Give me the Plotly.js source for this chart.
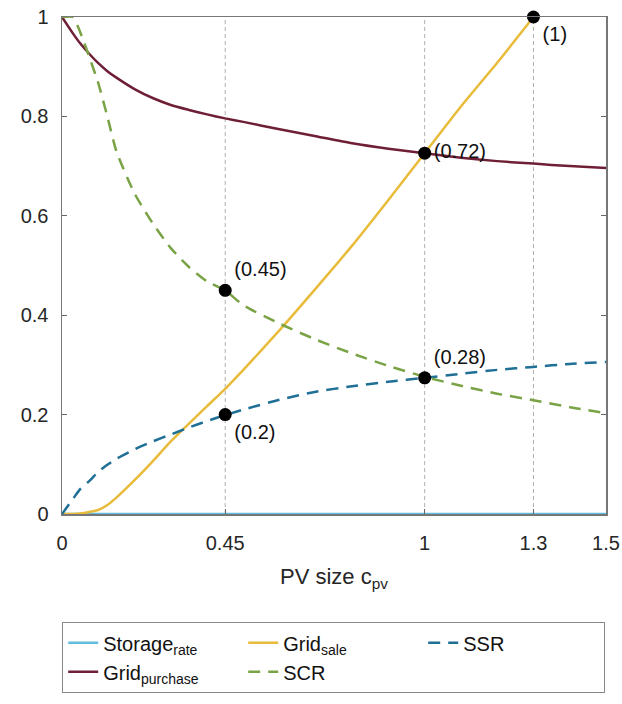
<!DOCTYPE html>
<html>
<head>
<meta charset="utf-8">
<script src="https://cdn.plot.ly/plotly-3.0.1.min.js"></script>
<style>html,body{margin:0;padding:0;background:#fff;}#chart{width:622px;height:704px;}</style>
</head>
<body>
<div id="chart"></div>
<script>
// PV size grid
const pvSize = [0, 0.03, 0.05, 0.075, 0.1, 0.125, 0.15, 0.2, 0.25, 0.3, 0.35, 0.4, 0.45, 0.5, 0.6, 0.7, 0.8, 0.9, 1.0, 1.1, 1.2, 1.3, 1.4, 1.5];
const storageRate = [0,0,0,0,0,0,0,0,0,0,0,0,0,0,0,0,0,0,0,0,0,0,0,0];
const gridPurchase = [1, 0.967, 0.947, 0.926, 0.907, 0.891, 0.878, 0.855, 0.837, 0.823, 0.813, 0.804, 0.796, 0.789, 0.774, 0.76, 0.746, 0.735, 0.726, 0.717, 0.71, 0.705, 0.7, 0.696];
const scr = [1, 1, 0.97, 0.92, 0.867, 0.8, 0.73, 0.645, 0.585, 0.535, 0.497, 0.468, 0.45, 0.42, 0.383, 0.351, 0.323, 0.298, 0.276, 0.258, 0.242, 0.229, 0.215, 0.203];
const ssr = [0, 0.03, 0.05, 0.066, 0.085, 0.099, 0.111, 0.13, 0.146, 0.16, 0.174, 0.187, 0.199, 0.21, 0.23, 0.246, 0.257, 0.266, 0.274, 0.282, 0.29, 0.296, 0.302, 0.306];
const saleSize = [0, 0.03, 0.05, 0.075, 0.1, 0.125, 0.15, 0.2, 0.25, 0.3, 0.35, 0.4, 0.45, 0.5, 0.6, 0.7, 0.8, 0.9, 1.0, 1.1, 1.2, 1.3];
const gridSale = [0, 0, 0.001, 0.004, 0.008, 0.018, 0.033, 0.068, 0.106, 0.146, 0.182, 0.217, 0.252, 0.29, 0.37, 0.454, 0.54, 0.632, 0.726, 0.82, 0.908, 1.0];

// highlighted points
const markX = [0.45, 0.45, 1, 1, 1.3];
const markY = [0.45, 0.2, 0.726, 0.274, 1];
const markLabels = ['(0.45)', '(0.2)', '(0.72)', '(0.28)', '(1)'];
const markPos = ['top right', 'bottom right', 'middle right', 'top right', 'bottom right'];

// vertical guide lines
const guideX = [0.45, 1, 1.3];

const xTicks = [0, 0.45, 1, 1.3, 1.5];
const xTickText = ['0', '0.45', '1', '1.3', '1.5'];
const yTicks = [0, 0.2, 0.4, 0.6, 0.8, 1];
const yTickText = ['0', '0.2', '0.4', '0.6', '0.8', '1'];

const FONT = 'Liberation Sans, Arial, sans-serif';

const traces = [];
guideX.forEach(g => {
  traces.push({x: [g, g], y: [0, 1], mode: 'lines', showlegend: false, hoverinfo: 'skip',
    line: {color: '#b0b0b0', width: 1, dash: '4px,3px'}});
});
traces.push({x: pvSize, y: storageRate, mode: 'lines', name: 'Storage<sub>rate</sub>',
  line: {color: '#62bde0', width: 2.5}});
traces.push({x: saleSize, y: gridSale, mode: 'lines', name: 'Grid<sub>sale</sub>',
  line: {color: '#e8bb3a', width: 2.5, shape: 'spline', smoothing: 0.6}});
traces.push({x: pvSize, y: ssr, mode: 'lines', name: 'SSR',
  line: {color: '#1f6f96', width: 2.5, dash: '12px,8px', shape: 'spline', smoothing: 0.6}});
traces.push({x: pvSize, y: gridPurchase, mode: 'lines', name: 'Grid<sub>purchase</sub>',
  line: {color: '#6e1f36', width: 2.5, shape: 'spline', smoothing: 0.6}});
traces.push({x: pvSize, y: scr, mode: 'lines', name: 'SCR',
  line: {color: '#7aa346', width: 2.5, dash: '12px,8px', shape: 'spline', smoothing: 0.6}});
traces.push({x: markX, y: markY, mode: 'markers+text', text: markLabels, textposition: markPos,
  showlegend: false, hoverinfo: 'skip', cliponaxis: false,
  marker: {color: '#000', size: 13},
  textfont: {family: FONT, size: 20, color: '#111'}});

const layout = {
  width: 622, height: 704,
  margin: {l: 62, r: 16, t: 17, b: 190, autoexpand: false},
  paper_bgcolor: '#fff', plot_bgcolor: '#fff',
  font: {family: FONT, size: 20, color: '#262626'},
  xaxis: {
    range: [0, 1.5], tickvals: xTicks, ticktext: xTickText,
    ticks: 'inside', ticklen: 5, tickcolor: '#666', ticklabelstandoff: 10,
    showline: true, linecolor: '#777', linewidth: 1.5, mirror: true,
    showgrid: false, zeroline: false,
    tickfont: {family: FONT, size: 20, color: '#262626'},
    title: {text: 'PV size c<sub>pv</sub>', font: {family: FONT, size: 22, color: '#262626'}, standoff: 16}
  },
  yaxis: {
    range: [0, 1], tickvals: yTicks, ticktext: yTickText,
    ticks: 'inside', ticklen: 5, tickcolor: '#666', ticklabelstandoff: 8,
    showline: true, linecolor: '#777', linewidth: 1.5, mirror: 'ticks',
    showgrid: false, zeroline: false,
    tickfont: {family: FONT, size: 20, color: '#262626'}
  },
  legend: {
    orientation: 'h', x: 0, xanchor: 'left', y: -0.2173, yanchor: 'top',
    bordercolor: '#888', borderwidth: 1.2, bgcolor: '#fff',
    entrywidth: 135, entrywidthmode: 'pixels',
    font: {family: FONT, size: 20, color: '#111'},
    tracegroupgap: 0
  },
  showlegend: true
};

Plotly.newPlot('chart', traces, layout, {displayModeBar: false, staticPlot: true});
</script>
</body>
</html>
